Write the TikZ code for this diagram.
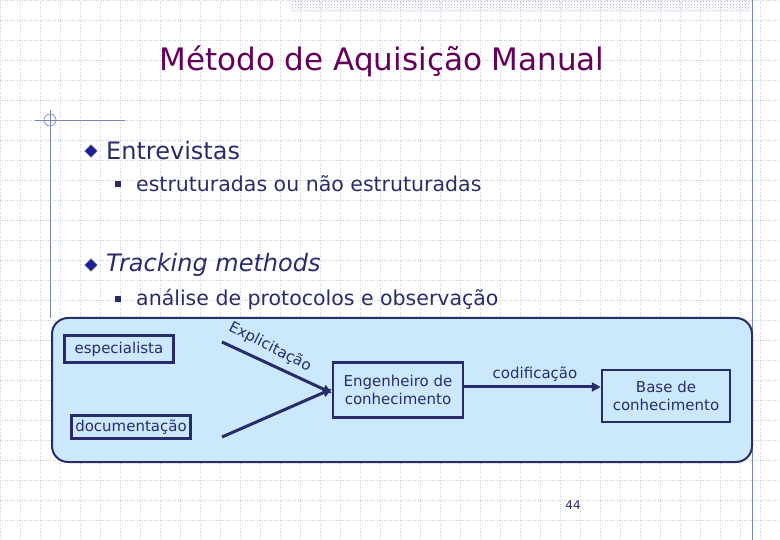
\documentclass[tikz,border=0pt]{standalone}
\usepackage{fontspec}
\setmainfont{DejaVu Sans}
\usetikzlibrary{patterns,shapes.geometric,arrows.meta}
\definecolor{navy}{RGB}{40,45,105}
\definecolor{titlepurple}{RGB}{100,0,90}
\definecolor{boxfill}{RGB}{204,232,252}
\definecolor{gridgray}{RGB}{205,205,215}
\definecolor{rulecol}{RGB}{120,130,180}
\tikzset{
  itembox/.style={draw=navy, line width=2.5pt, fill=boxfill, text=navy, font=\fontsize{15}{18}\selectfont, inner sep=4pt, align=center},
  flow/.style={draw=navy, line width=3pt, -{Triangle[length=9pt,width=9pt]}},
  bodytext/.style={text=navy, anchor=west, inner sep=0pt}
}
\begin{document}
\begin{tikzpicture}[x=1pt,y=-1pt]
\useasboundingbox (0,0) rectangle (780,540);
\fill[white] (0,0) rectangle (780,540);
% background grid
\draw[gridgray, dotted, step=20pt] (0,0) grid (780,540);
\fill[pattern=crosshatch dots, pattern color=rulecol!60] (290,0) rectangle (750,12);
\draw[rulecol, line width=0.8pt] (752,0) -- (752,540);
\draw[rulecol, line width=0.8pt] (35,120) -- (125,120);
\draw[rulecol, line width=0.8pt] (50,110) -- (50,318);
\draw[rulecol, line width=0.6pt] (50,120) circle (6);

\node[text=titlepurple, font=\fontsize{31}{34}\selectfont] (title) at (382,61) {Método de Aquisição Manual};

% bullets
\node[diamond, draw=gray, fill=navy!70!blue, inner sep=0pt, minimum size=13pt] (dia1) at (91,151) {};
\node[bodytext, font=\fontsize{24}{28}\selectfont] (entrev) at (106,151) {Entrevistas};
\node[fill=navy, inner sep=0pt, minimum size=6pt] (sq1) at (118,184) {};
\node[bodytext, font=\fontsize{20.5}{24}\selectfont] (estrut) at (136,184) {estruturadas ou não estruturadas};
\node[diamond, draw=gray, fill=navy!70!blue, inner sep=0pt, minimum size=13pt] (dia2) at (91,265) {};
\node[bodytext, font=\fontsize{24}{28}\selectfont\itshape] (track) at (106,265) {Tracking methods};
\node[fill=navy, inner sep=0pt, minimum size=6pt] (sq2) at (118,299) {};
\node[bodytext, font=\fontsize{20.5}{24}\selectfont] (analise) at (136,299) {análise de protocolos e observação};

% diagram
\draw[navy, line width=2pt, fill=boxfill, rounded corners=16pt] (52,318) rectangle (752,462);
\node[itembox, minimum width=109pt, minimum height=27pt] (espec) at (119,349) {especialista};
\node[itembox] (docum) at (131,427) {documentação};
\node[itembox, minimum width=130pt, minimum height=55pt] (eng) at (398,390) {Engenheiro de\\conhecimento};
\node[itembox, minimum width=128pt, minimum height=52pt] (base) at (666,396) {Base de\\conhecimento};
\coordinate (e1) at (222,342);
\coordinate (d1) at (222,437);
\draw[flow] (e1) -- (eng.west |- 0,393);
\draw[flow] (d1) -- (eng.west |- 0,389);
\draw[flow] (eng.east |- 0,387) -- (base.west |- 0,387);
\node[text=navy, font=\fontsize{15}{18}\selectfont, rotate=-27] (explic) at (270,347) {Explicitação};
\node[text=navy, font=\fontsize{15}{18}\selectfont] (codif) at (535,374) {codificação};
\node[text=navy, font=\fontsize{12}{14}\selectfont] (page) at (573,505) {44};
\end{tikzpicture}
\end{document}
